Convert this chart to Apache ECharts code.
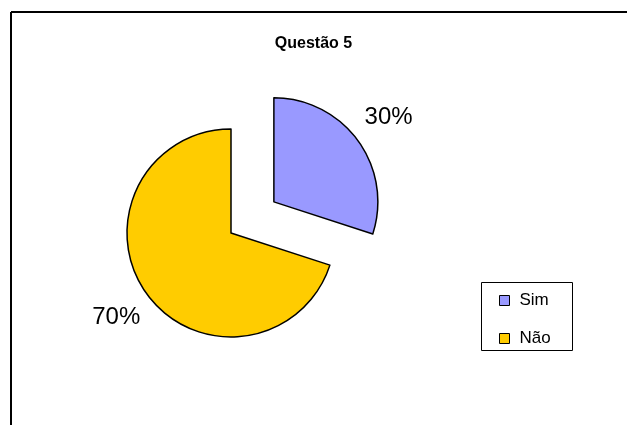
<!DOCTYPE html>
<html>
<head>
<meta charset="utf-8">
<script src="https://cdn.jsdelivr.net/npm/echarts@6/dist/echarts.min.js"></script>
<style>
html,body{margin:0;padding:0;background:#fff;}
#chart{width:627px;height:425px;}
</style>
</head>
<body>
<div id="chart"></div>
<script>
var title = 'Questão 5';
var categories = ['Sim', 'Não'];
var values = [30, 70];
var colors = ['#9999FF', '#FFCC00'];

var chart = echarts.init(document.getElementById('chart'), null, {renderer: 'canvas'});
var font = 'Liberation Sans, Arial, sans-serif';

var data = categories.map(function (c, i) {
  return {
    name: c,
    value: values[i],
    selected: i === 0,
    itemStyle: {color: colors[i]}
  };
});

chart.setOption({
  animation: false,
  backgroundColor: '#fff',
  title: {
    text: title,
    left: 'center',
    top: 31,
    textStyle: {fontFamily: font, fontSize: 16, fontWeight: 'bold', color: '#000'}
  },
  graphic: [
    {type: 'line', shape: {x1: 11, y1: 12, x2: 640, y2: 12}, style: {stroke: '#000', lineWidth: 2}},
    {type: 'line', shape: {x1: 11, y1: 12, x2: 11, y2: 440}, style: {stroke: '#000', lineWidth: 2}},
    {type: 'rect', shape: {x: 481.5, y: 282.5, width: 91, height: 68}, style: {fill: '#fff', stroke: '#000', lineWidth: 1}, z: -1}
  ],
  legend: {
    orient: 'vertical',
    left: 481,
    top: 283,
    padding: [9, 10, 3, 18],
    itemGap: 21,
    itemWidth: 10,
    itemHeight: 10,
    icon: 'rect',
    itemStyle: {borderColor: '#000', borderWidth: 1},
    selectedMode: false,
    textStyle: {fontFamily: font, fontSize: 17, color: '#000', padding: [0, 0, 0, 5]},
    data: categories
  },
  series: [{
    type: 'pie',
    center: [231, 233],
    radius: 104,
    startAngle: 90,
    clockwise: true,
    selectedMode: 'single',
    selectedOffset: 53,
    avoidLabelOverlap: false,
    itemStyle: {borderColor: '#000', borderWidth: 1.5},
    emphasis: {disabled: true},
    select: {itemStyle: {borderColor: '#000', borderWidth: 1.5}},
    label: {
      show: true,
      position: 'outside',
      formatter: '{d}%',
      fontFamily: font,
      fontSize: 24,
      color: '#000',
      distanceToLabelLine: -25
    },
    labelLine: {show: false, length: 39, length2: 0},
    data: data
  }]
});
</script>
</body>
</html>
